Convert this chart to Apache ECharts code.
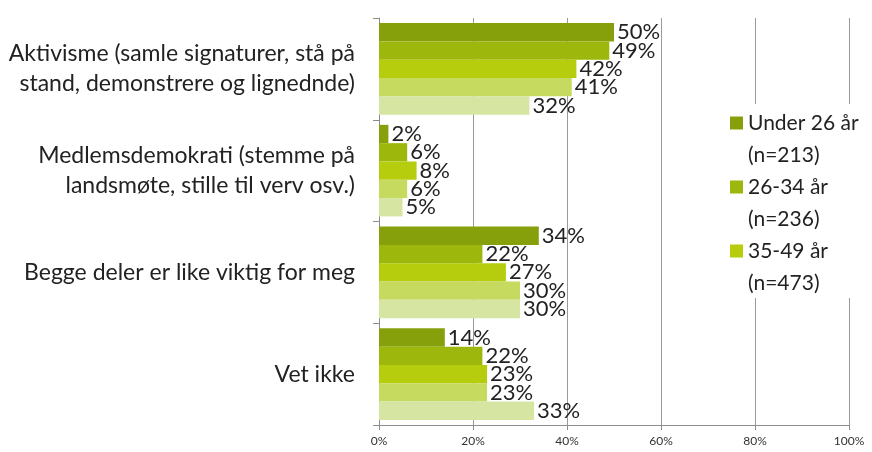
<!DOCTYPE html>
<html><head><meta charset="utf-8">
<script src="https://cdn.jsdelivr.net/npm/echarts@6/dist/echarts.min.js"></script>
<style>html,body{margin:0;padding:0;background:#fff}#c{width:872px;height:452px}</style>
</head><body><div id="c"></div>
<script>
const categories = [
  'Aktivisme (samle signaturer, stå på\nstand, demonstrere og lignednde)',
  'Medlemsdemokrati (stemme på\nlandsmøte, stille til verv osv.)',
  'Begge deler er like viktig for meg',
  'Vet ikke'
];
const seriesNames = ['Under 26 år\n(n=213)', '26-34 år\n(n=236)', '35-49 år\n(n=473)', '50-66 år', '67 år og eldre'];
const legendShown = ['Under 26 år\n(n=213)', '26-34 år\n(n=236)', '35-49 år\n(n=473)'];
const s1 = [50, 2, 34, 14];
const s2 = [49, 6, 22, 22];
const s3 = [42, 8, 27, 23];
const s4 = [41, 6, 30, 23];
const s5 = [32, 5, 30, 33];
const tickValues = [0, 20, 40, 60, 80, 100];
const colors = ['#86a00c', '#9db70c', '#b5cd0c', '#c5da5e', '#d6e6a2'];

const font = 'Lato, "Open Sans", sans-serif';
const allData = [s1, s2, s3, s4, s5];
const chart = echarts.init(document.getElementById('c'));
chart.setOption({
  animation: false,
  color: colors,
  grid: { left: 379, right: 23, top: 18, bottom: 27, containLabel: false },
  graphic: [{ type: 'rect', z: 3, shape: { x: 726, y: 104, width: 140, height: 194 }, style: { fill: '#fff' } }],
  legend: {
    data: legendShown,
    orient: 'vertical',
    left: 730, top: 75,
    padding: 0,
    itemWidth: 13, itemHeight: 13, itemGap: -32,
    icon: 'rect',
    z: 4,
    formatter: name => ' \n' + name,
    textStyle: { fontFamily: font, fontSize: 21, color: '#222', lineHeight: 32 }
  },
  xAxis: {
    type: 'value', min: 0, max: 100, interval: 20,
    axisLine: { show: true, lineStyle: { color: '#8c8c8c' } },
    axisTick: { show: true, length: 5, lineStyle: { color: '#8c8c8c' } },
    splitLine: { show: true, lineStyle: { color: '#9a9a9a' } },
    axisLabel: { formatter: v => tickValues.includes(v) ? v + '%' : '', fontFamily: font, fontSize: 12, color: '#333', margin: 10 }
  },
  yAxis: {
    type: 'category', data: categories, inverse: true,
    axisLine: { show: true, lineStyle: { color: '#8c8c8c' } },
    axisTick: { show: true, length: 6, lineStyle: { color: '#8c8c8c' } },
    axisLabel: { fontFamily: font, fontSize: 23, lineHeight: 30, color: '#222', margin: 24, align: 'right' }
  },
  series: allData.map((d, i) => ({
    name: seriesNames[i],
    type: 'bar',
    data: d,
    barGap: '0%',
    barCategoryGap: '10%',
    label: { show: true, position: 'right', distance: 3, formatter: '{c}%', fontFamily: font, fontSize: 22, color: '#222' }
  }))
});
</script></body></html>
